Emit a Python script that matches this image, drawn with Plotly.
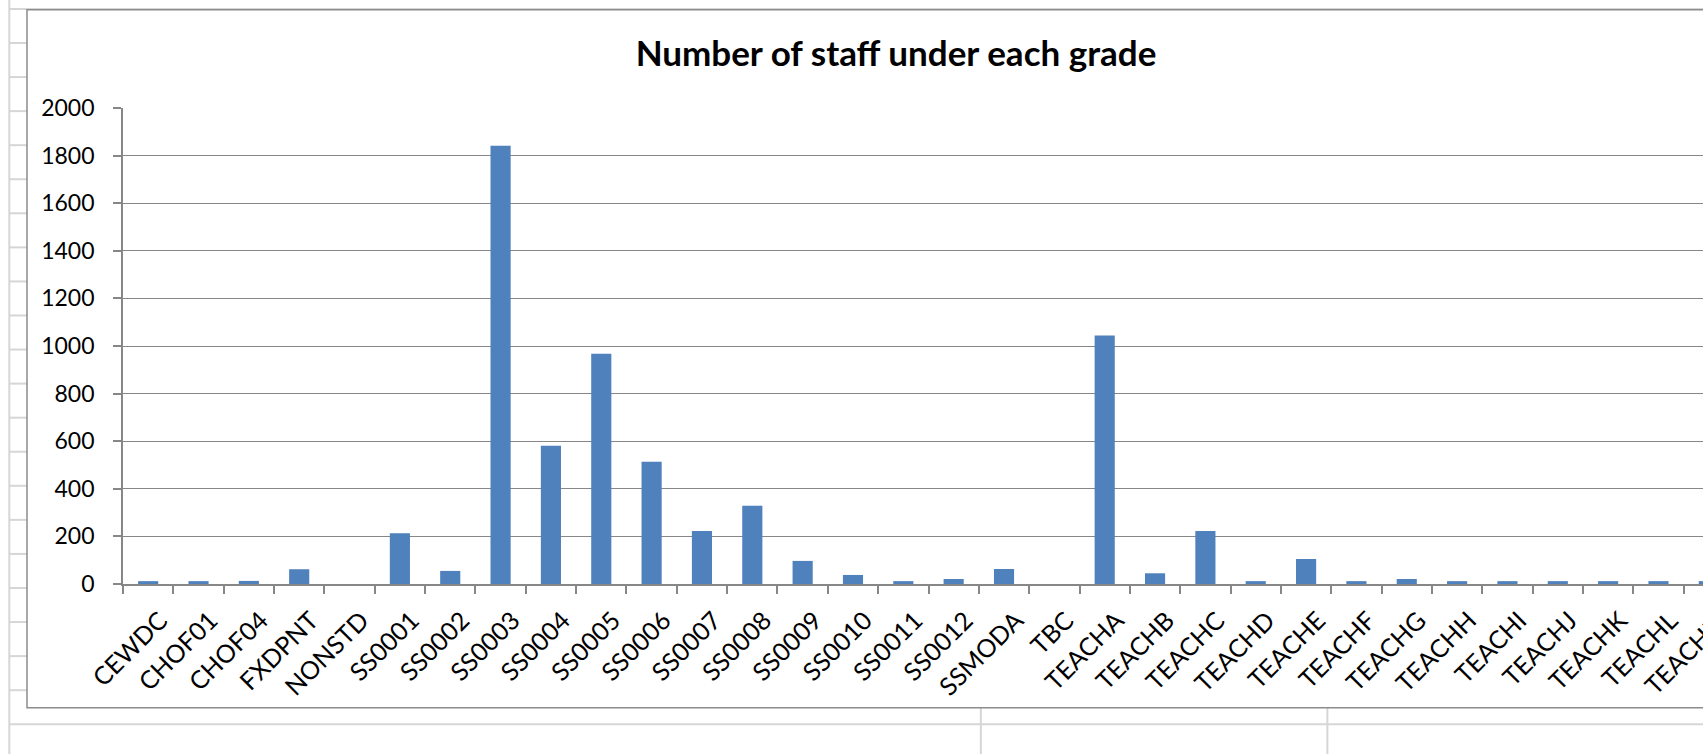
import plotly.graph_objects as go

# ---- data ----
grades = ["CEWDC", "CHOF01", "CHOF04", "FXDPNT", "NONSTD", "SS0001", "SS0002", "SS0003",
          "SS0004", "SS0005", "SS0006", "SS0007", "SS0008", "SS0009", "SS0010", "SS0011",
          "SS0012", "SSMODA", "TBC", "TEACHA", "TEACHB", "TEACHC", "TEACHD", "TEACHE",
          "TEACHF", "TEACHG", "TEACHH", "TEACHI", "TEACHJ", "TEACHK", "TEACHL", "TEACHM"]
staff_counts = [12, 12, 13, 62, 0, 213, 55, 1841,
                581, 967, 514, 223, 329, 97, 38, 12,
                21, 63, 0, 1044, 45, 223, 12, 105,
                12, 21, 12, 12, 12, 12, 12, 12]
y_ticks = [0, 200, 400, 600, 800, 1000, 1200, 1400, 1600, 1800, 2000]
chart_title = "Number of staff under each grade"

# ---- layout geometry (pixels) ----
W, H = 1780, 754
ML, MT = 122.7, 108.3
PLOT_R = 1733.6
PLOT_B = 584.0
MR = W - PLOT_R
MB = H - PLOT_B
PW = PLOT_R - ML
PH = PLOT_B - MT


def px(x):
    return (x - ML) / PW


def py(y):
    return (PLOT_B - y) / PH


GRID = "#878787"
SHEET = "#D6D6D6"
FONT = "Lato"

fig = go.Figure(
    go.Bar(
        x=grades,
        y=staff_counts,
        marker=dict(color="#4F81BD", line=dict(width=0)),
        width=0.4,
    )
)

shapes = []
# spreadsheet grid behind the chart object
shapes.append(dict(type="line", xref="paper", yref="paper", x0=px(9), x1=px(9), y0=py(0), y1=py(H),
                   line=dict(color=SHEET, width=2)))
for k in range(0, 22):
    yy = 9.3 + 34.04 * k
    if k == 0 or yy > 708:
        shapes.append(dict(type="line", xref="paper", yref="paper", x0=px(9), x1=px(W), y0=py(yy), y1=py(yy),
                           line=dict(color=SHEET, width=2)))
    else:
        shapes.append(dict(type="line", xref="paper", yref="paper", x0=px(9), x1=px(26.7), y0=py(yy), y1=py(yy),
                           line=dict(color=SHEET, width=2)))
for xx in (980.5, 1327):
    shapes.append(dict(type="line", xref="paper", yref="paper", x0=px(xx), x1=px(xx), y0=py(708), y1=py(H),
                       line=dict(color=SHEET, width=2)))
# chart frame
shapes.append(dict(type="rect", xref="paper", yref="paper", x0=px(26.7), x1=px(1765), y0=py(10), y1=py(707.7),
                   line=dict(color="#8C8C8C", width=1.5), fillcolor="rgba(0,0,0,0)"))

fig.update_layout(
    width=W,
    height=H,
    margin=dict(l=ML, r=MR, t=MT, b=MB, pad=0),
    paper_bgcolor="white",
    plot_bgcolor="white",
    showlegend=False,
    bargap=0.6,
    font=dict(family=FONT, color="black"),
    title=dict(
        text="<b>" + chart_title + "</b>",
        font=dict(family=FONT, size=35, color="black"),
        xref="container", x=896 / W, xanchor="center",
        yref="container", y=1 - 54 / H, yanchor="middle",
    ),
    shapes=shapes,
    xaxis=dict(
        type="category",
        range=[-0.5, len(grades) - 0.5],
        tickangle=-45,
        tickson="boundaries",
        ticks="outside",
        ticklen=8,
        tickwidth=1.5,
        tickcolor=GRID,
        showline=True,
        linecolor=GRID,
        linewidth=2,
        showgrid=False,
        tickfont=dict(family=FONT, size=25, color="black"),
        ticklabelstandoff=10,
        ticklabelshift=12,
        fixedrange=True,
    ),
    yaxis=dict(
        range=[0, 2000],
        tickvals=y_ticks,
        ticks="outside",
        ticklen=8,
        tickwidth=1.5,
        tickcolor=GRID,
        showline=True,
        linecolor=GRID,
        linewidth=1.8,
        showgrid=True,
        gridcolor=GRID,
        gridwidth=1.3,
        zeroline=False,
        tickfont=dict(family=FONT, size=23, color="black"),
        ticklabelstandoff=14,
        fixedrange=True,
    ),
)

fig.write_html(
    "out.html",
    config={"displayModeBar": False},
    post_script="document.body.style.margin='0';document.body.style.overflow='hidden';document.documentElement.style.overflow='hidden';",
)
